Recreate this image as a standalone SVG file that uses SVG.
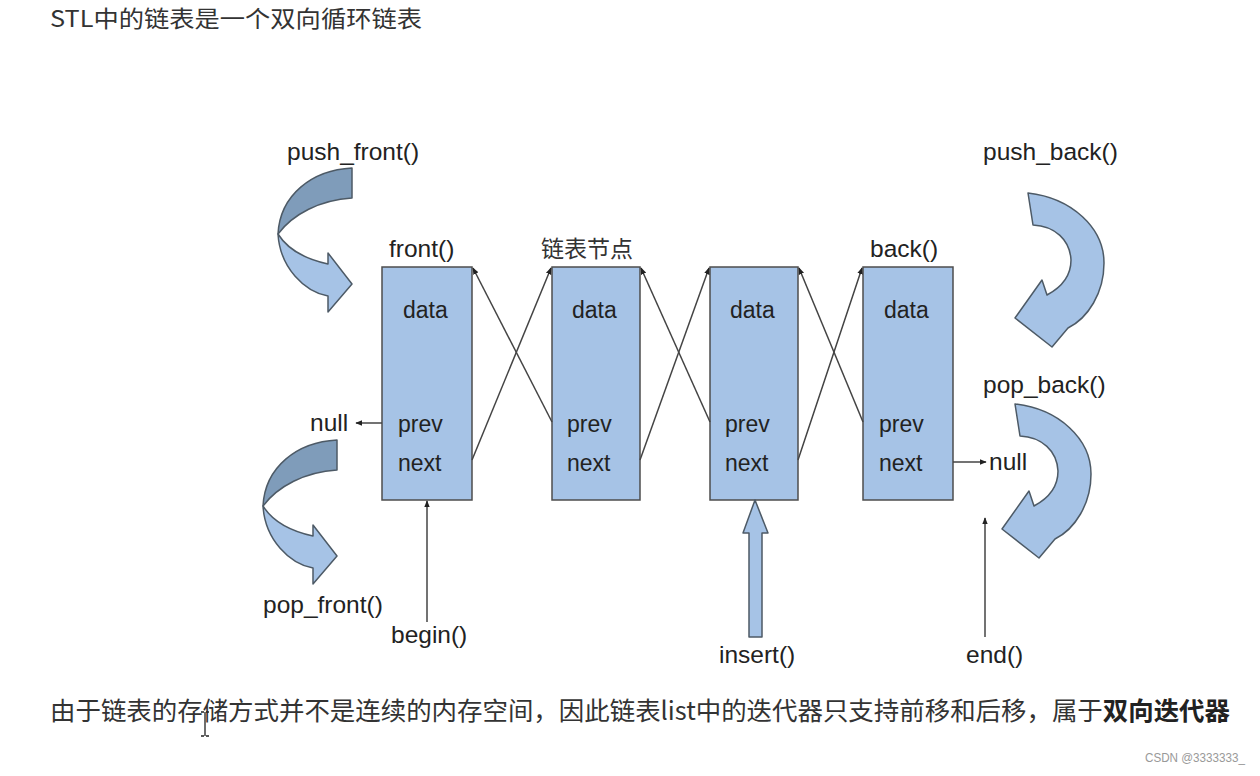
<svg xmlns="http://www.w3.org/2000/svg" width="1260" height="776" viewBox="0 0 1260 776">
<style>
.cjk{font-family:"Noto Sans CJK SC","Noto Sans",sans-serif;fill:#333}
.lbl{font-family:"Liberation Sans",Arial,sans-serif;font-size:24.5px;fill:#222}
.in{font-family:"Liberation Sans",Arial,sans-serif;font-size:23px;fill:#222}
.box{fill:#a6c3e6;stroke:#4d4d4d;stroke-width:1.5}
.ln{stroke:#444;stroke-width:1.5;fill:none}
.lt{fill:#a6c3e6;stroke:#4d5a66;stroke-width:1.5;stroke-linejoin:round}
.dk{fill:#7f9cba;stroke:#4d5a66;stroke-width:1.5;stroke-linejoin:round}
</style>
<defs>
<marker id="ah" viewBox="0 0 10 10" refX="9" refY="5" markerWidth="7" markerHeight="7" orient="auto" markerUnits="userSpaceOnUse">
<path d="M0,1 L10,5 L0,9 Z" fill="#222"/>
</marker>
<g id="curlL">
<path class="dk" d="M352,168 L352,198 C320,200 293,214 278,234 C280,195 312,170 352,168 Z"/>
<path class="lt" d="M278,234 C280,268 305,292 328,296 L328,312 L352,284 L328,253 L328,264 C305,259 288,250 278,234 Z"/>
</g>
<path id="curlR" class="lt" d="M1028,193 C1072,198 1104,228 1104,263 C1104,293 1088,318 1068,328 L1052,347 L1015,318 L1042,280 L1047,295 C1062,287 1071,275 1071,260 C1070,240 1055,226 1033,225 Z"/>
</defs>
<rect width="1260" height="776" fill="#fff"/>
<text class="cjk" x="50" y="27" font-size="23" textLength="372" lengthAdjust="spacingAndGlyphs">STL中的链表是一个双向循环链表</text>

<g id="push_front">
<use href="#curlL"/>
<text class="lbl" x="287" y="160">push_front()</text>
</g>
<g id="pop_front">
<use href="#curlL" transform="translate(-15,272)"/>
<text class="lbl" x="263" y="613">pop_front()</text>
</g>
<g id="push_back">
<use href="#curlR"/>
<text class="lbl" x="983" y="160">push_back()</text>
</g>
<g id="pop_back">
<use href="#curlR" transform="translate(-13,211)"/>
<text class="lbl" x="983" y="393">pop_back()</text>
</g>

<g id="node1">
<rect class="box" x="382" y="267" width="90" height="233"/>
<text class="lbl" x="389" y="257">front()</text>
<text class="in" x="403" y="318">data</text>
<text class="in" x="398" y="432">prev</text>
<text class="in" x="398" y="471">next</text>
</g>
<g id="node2">
<rect class="box" x="552" y="267" width="88" height="233"/>
<text class="cjk" x="541" y="257" font-size="23">链表节点</text>
<text class="in" x="572" y="318">data</text>
<text class="in" x="567" y="432">prev</text>
<text class="in" x="567" y="471">next</text>
</g>
<g id="node3">
<rect class="box" x="710" y="267" width="88" height="233"/>
<text class="in" x="730" y="318">data</text>
<text class="in" x="725" y="432">prev</text>
<text class="in" x="725" y="471">next</text>
</g>
<g id="node4">
<rect class="box" x="863" y="267" width="90" height="233"/>
<text class="lbl" x="870" y="257">back()</text>
<text class="in" x="884" y="318">data</text>
<text class="in" x="879" y="432">prev</text>
<text class="in" x="879" y="471">next</text>
</g>

<g id="connectors">
<line class="ln" x1="472" y1="460" x2="551" y2="268" marker-end="url(#ah)"/>
<line class="ln" x1="552" y1="422" x2="473" y2="268" marker-end="url(#ah)"/>
<line class="ln" x1="640" y1="460" x2="709" y2="268" marker-end="url(#ah)"/>
<line class="ln" x1="710" y1="422" x2="641" y2="268" marker-end="url(#ah)"/>
<line class="ln" x1="798" y1="460" x2="862" y2="268" marker-end="url(#ah)"/>
<line class="ln" x1="863" y1="422" x2="799" y2="268" marker-end="url(#ah)"/>
<line class="ln" x1="382" y1="423" x2="356" y2="423" marker-end="url(#ah)"/>
<line class="ln" x1="953" y1="462" x2="986" y2="462" marker-end="url(#ah)"/>
<line class="ln" x1="427" y1="622" x2="427" y2="501" marker-end="url(#ah)"/>
<line class="ln" x1="985" y1="637" x2="985" y2="518" marker-end="url(#ah)"/>
<path class="lt" d="M749,637 L749,533 L743,533 L755,500 L768,533 L762,533 L762,637 Z"/>
</g>

<g id="labels">
<text class="lbl" x="310" y="431">null</text>
<text class="lbl" x="989" y="470">null</text>
<text class="lbl" x="391" y="643">begin()</text>
<text class="lbl" x="719" y="663">insert()</text>
<text class="lbl" x="966" y="663">end()</text>
</g>

<text class="cjk" x="50" y="720" font-size="25.5" textLength="1180" lengthAdjust="spacingAndGlyphs">由于链表的存储方式并不是连续的内存空间，因此链表list中的迭代器只支持前移和后移，属于<tspan font-weight="bold" fill="#222">双向迭代器</tspan></text>
<path d="M201,712 h3 M206,712 h3 M205,712 v24 M201,736 h3 M206,736 h3" stroke="#222" stroke-width="1.3" fill="none"/>
<text x="1145" y="762" font-family="Liberation Sans,Arial,sans-serif" font-size="12.5" fill="#999" textLength="100" lengthAdjust="spacingAndGlyphs">CSDN @3333333_</text>
</svg>
